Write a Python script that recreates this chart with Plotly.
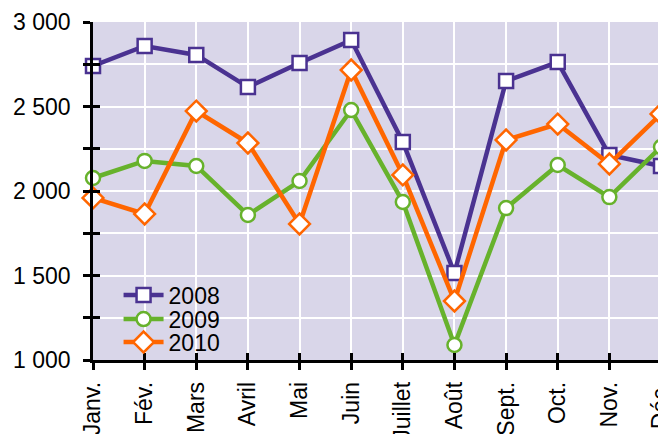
import plotly.graph_objects as go

months = ["Janv.", "Fév.", "Mars", "Avril", "Mai", "Juin", "Juillet", "Août", "Sept.", "Oct.", "Nov.", "Déc."]
v2008 = [2740, 2858, 2805, 2615, 2757, 2893, 2290, 1515, 2651, 2763, 2213, 2148]
v2009 = [2077, 2178, 2148, 1858, 2059, 2479, 1935, 1089, 1899, 2154, 1964, 2260]
v2010 = [1959, 1864, 2473, 2284, 1805, 2716, 2095, 1349, 2302, 2396, 2160, 2456]
ytick_vals = [1000, 1250, 1500, 1750, 2000, 2250, 2500, 2750, 3000]
ytick_text = ["1 000", "", "1 500", "", "2 000", "", "2 500", "", "3 000"]

series = [
    ("2008", v2008, "#4a3291", "square", "legend"),
    ("2009", v2009, "#67b22c", "circle", "legend2"),
    ("2010", v2010, "#ff6600", "diamond", "legend3"),
]
sizes = {"square": 14, "circle": 14, "diamond": 16}

FONT = "Liberation Sans, Arial, sans-serif"
FS = 23

fig = go.Figure()
for name, vals, color, sym, lg in series:
    fig.add_trace(go.Scatter(
        x=list(range(len(months))), y=vals, name=name, mode="lines+markers",
        line=dict(color=color, width=4.5),
        marker=dict(symbol=sym, size=sizes[sym], color="white", line=dict(color=color, width=2.5)),
        cliponaxis=False, legend=lg,
    ))

# body has an 8px default margin in the page; compensate so the plot sits where the reference has it
W, H = 674, 442
leg_common = dict(xanchor="left", yanchor="middle", bgcolor="rgba(0,0,0,0)",
                  font=dict(family=FONT, size=FS, color="black"), itemwidth=40)

fig.update_layout(
    width=W, height=H,
    margin=dict(l=85, r=21, t=14, b=90),
    paper_bgcolor="white", plot_bgcolor="#d9d6e9",
    font=dict(family=FONT, size=FS, color="black"),
    showlegend=True,
    legend=dict(x=0.045, y=0.192, **leg_common),
    legend2=dict(x=0.045, y=0.121, **leg_common),
    legend3=dict(x=0.045, y=0.053, **leg_common),
    xaxis=dict(range=[0, 11], tickvals=list(range(len(months))), ticktext=months,
               tickangle=-90, showgrid=True, gridcolor="white", gridwidth=2,
               showline=True, linecolor="black", linewidth=2.5,
               ticks="outside", ticklen=7, tickwidth=2.5, tickcolor="black",
               ticklabelstandoff=3,
               tickfont=dict(family=FONT, size=FS), zeroline=False, automargin=False),
    yaxis=dict(range=[1000, 3000], tickvals=ytick_vals, ticktext=ytick_text,
               showgrid=True, gridcolor="white", gridwidth=2,
               showline=True, linecolor="black", linewidth=2.5,
               ticks="outside", ticklen=7, tickwidth=2.5, tickcolor="black",
               ticklabelstandoff=8,
               tickfont=dict(family=FONT, size=FS), zeroline=False, automargin=False),
    xaxis2=dict(range=[0, 11], overlaying="x", tickvals=list(range(len(months))), showticklabels=False,
                ticks="inside", ticklen=7, tickwidth=2.5, tickcolor="black", showgrid=False,
                zeroline=False, side="bottom", anchor="y"),
    yaxis2=dict(range=[1000, 3000], overlaying="y", tickvals=ytick_vals, showticklabels=False,
                ticks="inside", ticklen=7, tickwidth=2.5, tickcolor="black", showgrid=False,
                zeroline=False, side="left", anchor="x"),
)
fig.add_trace(go.Scatter(x=[None], y=[None], xaxis="x2", yaxis="y2", showlegend=False, hoverinfo="skip"))

fig.write_html("out.html")
